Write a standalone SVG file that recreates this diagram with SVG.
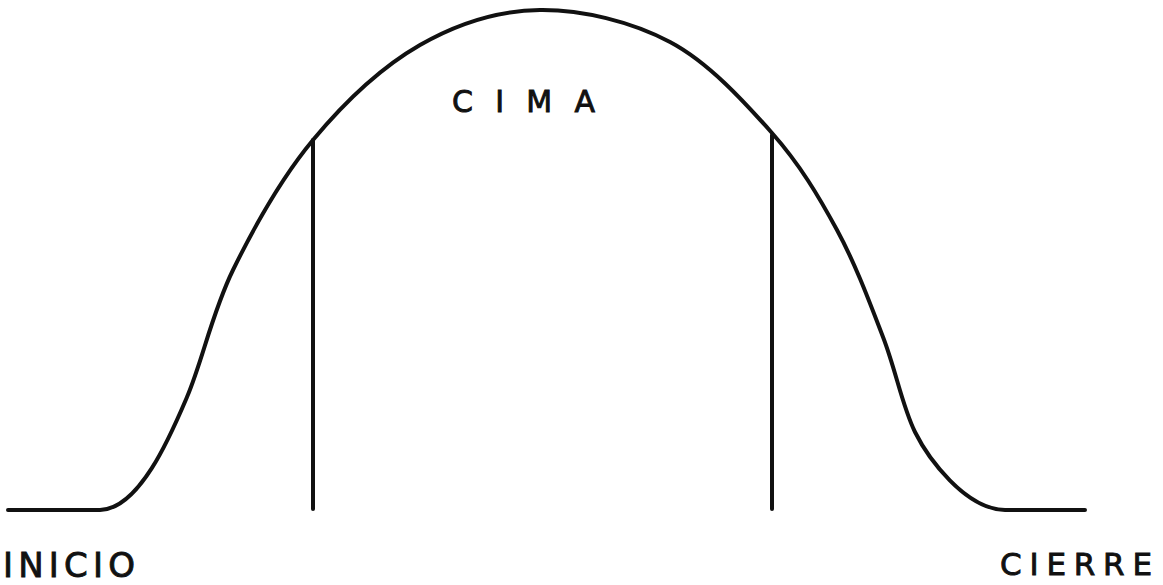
<svg xmlns="http://www.w3.org/2000/svg" width="1163" height="585" viewBox="0 0 1163 585">
<style>
.ln{fill:none;stroke:#111;stroke-width:4;stroke-linecap:round;stroke-linejoin:round}
.lbl{font-family:"DejaVu Sans",sans-serif;fill:#111;stroke:#111;stroke-width:0.9;font-weight:normal}
</style>
<rect width="1163" height="585" fill="#fff"/>
<g id="connectors">
<path id="curve" class="ln" d="M8,510 L100,510 C140,509 171.5,433.3 187,397 C202.5,360.7 212,312.8 233,270 C254,227.2 281.8,177.5 313,140 C344.2,102.5 382.2,66.7 420,45 C457.8,23.3 498.3,10.5 540,10 C581.7,9.5 631.3,21.5 670,42 C708.7,62.5 744.2,101.7 772,133 C799.8,164.3 818.5,196 837,230 C855.5,264 870,303.3 883,337 C896,370.7 902.2,406.2 915,432 C927.8,457.8 965,509 1005,510 L1085,510"/>
<line class="ln" x1="313" y1="140" x2="313" y2="509"/>
<line class="ln" x1="772" y1="135" x2="772" y2="509"/>
</g>
<g id="cima"><text class="lbl" x="452" y="112" font-size="30" textLength="143" lengthAdjust="spacing">CIMA</text></g>
<g id="inicio"><text class="lbl" x="3" y="577" font-size="34" textLength="132" lengthAdjust="spacing">INICIO</text></g>
<g id="cierre"><text class="lbl" x="1000" y="575" font-size="31" textLength="152" lengthAdjust="spacing">CIERRE</text></g>
</svg>
